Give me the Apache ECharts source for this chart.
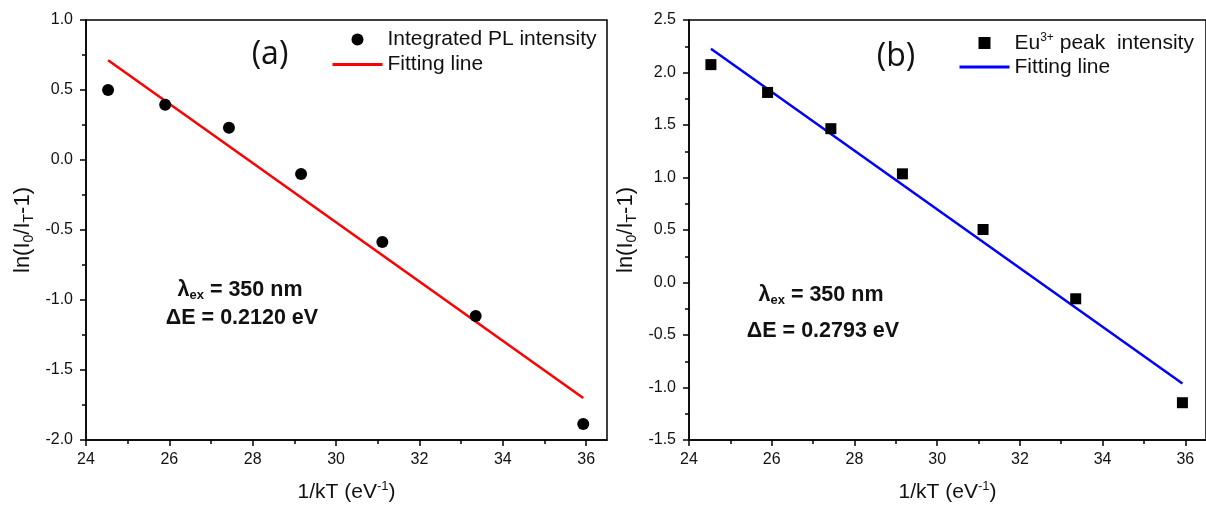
<!DOCTYPE html>
<html>
<head>
<meta charset="utf-8">
<script src="https://cdn.jsdelivr.net/npm/echarts@6/dist/echarts.min.js"></script>
<style>
html,body{margin:0;padding:0;background:#fff;}
#chart{width:1206px;height:509px;}
</style>
</head>
<body>
<div id="chart"></div>
<script>
// ---- data ----
const kT = [24.53, 25.90, 27.43, 29.16, 31.11, 33.35, 35.93];
const plIntensity = [0.50, 0.395, 0.23, -0.10, -0.585, -1.115, -1.885];
const euIntensity = [2.075, 1.81, 1.465, 1.035, 0.505, -0.155, -1.145];
const fitX = [24.53, 35.93];
const fitLineA = [0.713, -1.70];
const fitLineB = [2.226, -0.962];
const xMajorTicks = [24, 26, 28, 30, 32, 34, 36];
const xMinorTicks = [25, 27, 29, 31, 33, 35];
const xRange = [24, 36.5];
const yRangeA = [-2.0, 1.0];
const yRangeB = [-1.5, 2.5];
const yStep = 0.5;
const seriesNames = ['Integrated PL intensity', 'Eu3+ peak  intensity', 'Fitting line'];
const annotA = ['350 nm', '0.2120 eV'];
const annotB = ['350 nm', '0.2793 eV'];

const FONT = 'Liberation Sans, Arial, sans-serif';
const zip = (xs, ys) => xs.map((x, i) => [x, ys[i]]);

const chart = echarts.init(document.getElementById('chart'), null, {renderer: 'canvas'});

const grids = [
  {left: 86, top: 20, width: 521, height: 420},
  {left: 689, top: 20, width: 520, height: 420}
];

function mainX(gi) {
  return {
    gridIndex: gi, type: 'value', position: 'bottom', min: xRange[0], max: xRange[1],
    name: '{a|1/kT (eV}{s|-1}{a|)}', nameLocation: 'middle', nameGap: 40,
    nameTextStyle: {color: '#111', fontFamily: FONT, fontSize: 21,
      rich: {a: {fontSize: 21, fontFamily: FONT, color: '#111', lineHeight: 25},
             s: {fontSize: 13, fontFamily: FONT, color: '#111', lineHeight: 13, verticalAlign: 'top'}}},
    axisLine: {show: true, onZero: false, lineStyle: {color: '#000', width: 1.5}},
    axisTick: {show: true, inside: false, length: 6, customValues: xMajorTicks, lineStyle: {color: '#000', width: 1.5}},
    axisLabel: {show: true, margin: 12, customValues: xMajorTicks, color: '#111', fontFamily: FONT, fontSize: 16},
    splitLine: {show: false}
  };
}
function minorX(gi) {
  return {
    gridIndex: gi, type: 'value', position: 'bottom', offset: 0, min: xRange[0], max: xRange[1],
    axisLine: {show: false, onZero: false},
    axisTick: {show: true, inside: false, length: 4, customValues: xMinorTicks, lineStyle: {color: '#000', width: 1.5}},
    axisLabel: {show: false},
    splitLine: {show: false}
  };
}
function mainY(gi, range) {
  return {
    gridIndex: gi, type: 'value', position: 'left', min: range[0], max: range[1], interval: yStep,
    name: '{a|ln(I}{b|0}{a|/I}{b|T}{a|-1)}', nameLocation: 'middle', nameGap: 50,
    nameTextStyle: {color: '#111', fontFamily: FONT, fontSize: 22,
      rich: {a: {fontSize: 22, fontFamily: FONT, color: '#111', lineHeight: 26},
             b: {fontSize: 14, fontFamily: FONT, color: '#111', lineHeight: 14, verticalAlign: 'bottom'}}},
    axisLine: {show: true, onZero: false, lineStyle: {color: '#000', width: 1.5}},
    axisTick: {show: true, inside: false, length: 6, lineStyle: {color: '#000', width: 1.5}},
    minorTick: {show: true, splitNumber: 2, length: 4, lineStyle: {color: '#000', width: 1.5}},
    axisLabel: {show: true, margin: 13, color: '#111', fontFamily: FONT, fontSize: 16,
      formatter: v => v.toFixed(1)},
    splitLine: {show: false}
  };
}

const legendRich = {
  a: {fontSize: 21, fontFamily: FONT, color: '#111', lineHeight: 22},
  s: {fontSize: 12, fontFamily: FONT, color: '#111', lineHeight: 12, verticalAlign: 'top'}
};
function legendFmt(name) {
  if (name === 'fitA' || name === 'fitB') return '{a|' + seriesNames[2] + '}';
  if (name === seriesNames[1]) return '{a|Eu}{s|3+}{a| peak  intensity}';
  return '{a|' + name + '}';
}

function annot(x, y, txt, lambda) {
  const rich = {
    m: {fontSize: 21.5, fontWeight: 'bold', fontFamily: FONT, fill: '#111', lineHeight: 24},
    u: {fontSize: 13, fontWeight: 'bold', fontFamily: FONT, fill: '#111', lineHeight: 13, verticalAlign: 'bottom'}
  };
  return {
    type: 'text', x: x, y: y, z: 10,
    style: {
      text: lambda ? '{m|λ}{u|ex}{m| = ' + txt + '}' : '{m|ΔE = ' + txt + '}',
      rich: rich, align: 'center', verticalAlign: 'middle',
      fontSize: 21.5, fontWeight: 'bold', fontFamily: FONT, fill: '#111'
    }
  };
}

const hideDot = {opacity: 0};
const option = {
  backgroundColor: '#ffffff',
  animation: false,
  grid: grids.map(g => Object.assign({show: true, borderColor: '#000', borderWidth: 1.5, backgroundColor: 'transparent'}, g)),
  xAxis: [mainX(0), minorX(0), mainX(1), minorX(1)],
  yAxis: [mainY(0, yRangeA), mainY(1, yRangeB)],
  legend: [
    {data: [seriesNames[0], {name: 'fitA', itemStyle: hideDot, lineStyle: {color: '#ff0000', width: 3}}],
     left: 331, top: 29, orient: 'vertical', padding: 0,
     itemWidth: 50, itemHeight: 12, itemGap: 4, formatter: legendFmt, selectedMode: false,
     textStyle: {fontSize: 21, fontFamily: FONT, color: '#111', rich: legendRich}},
    {data: [{name: seriesNames[1], icon: 'path://M0,0h10v10h-10z'},
            {name: 'fitB', itemStyle: hideDot, lineStyle: {color: '#0000ff', width: 3}}],
     left: 958, top: 32, orient: 'vertical', padding: 0, symbolKeepAspect: true,
     itemWidth: 50, itemHeight: 12, itemGap: 3, formatter: legendFmt, selectedMode: false,
     textStyle: {fontSize: 21, fontFamily: FONT, color: '#111', rich: legendRich}}
  ],
  series: [
    {name: 'fitA', type: 'line', xAxisIndex: 0, yAxisIndex: 0, data: zip(fitX, fitLineA),
     symbol: 'none', lineStyle: {color: '#ff0000', width: 2.5}, itemStyle: {color: '#ff0000'}, z: 2},
    {name: seriesNames[0], type: 'scatter', xAxisIndex: 0, yAxisIndex: 0, data: zip(kT, plIntensity),
     symbol: 'circle', symbolSize: 12, itemStyle: {color: '#000', opacity: 1}, z: 3},
    {name: 'fitB', type: 'line', xAxisIndex: 2, yAxisIndex: 1, data: zip(fitX, fitLineB),
     symbol: 'none', lineStyle: {color: '#0000ff', width: 2.5}, itemStyle: {color: '#0000ff'}, z: 2},
    {name: seriesNames[1], type: 'scatter', xAxisIndex: 2, yAxisIndex: 1, data: zip(kT, euIntensity),
     symbol: 'rect', symbolSize: 11, itemStyle: {color: '#000', opacity: 1}, z: 3}
  ],
  graphic: [
    {type: 'text', x: 270, y: 55, style: {text: '(a)', fontSize: 32, fontFamily: 'Open Sans, sans-serif', fill: '#111', align: 'center', verticalAlign: 'middle'}},
    {type: 'text', x: 896, y: 57, style: {text: '(b)', fontSize: 32, fontFamily: 'Open Sans, sans-serif', fill: '#111', align: 'center', verticalAlign: 'middle'}},
    annot(240, 290, annotA[0], true),
    annot(242, 318, annotA[1], false),
    annot(821, 295, annotB[0], true),
    annot(823, 331, annotB[1], false)
  ]
};
chart.setOption(option);
</script>
</body>
</html>
